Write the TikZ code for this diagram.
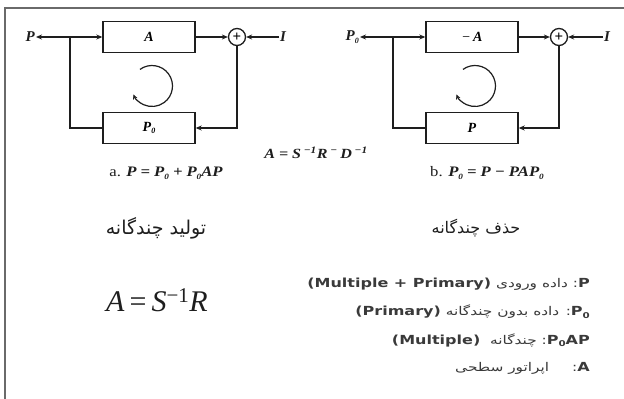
\documentclass[tikz,border=0pt]{standalone}
\usepackage{fontspec}
\usepackage{graphicx}
\usetikzlibrary{arrows.meta}
\TeXXeTstate=1
\newfontfamily\arabicfont[Script=Arabic]{DejaVu Sans}
\newfontfamily\tnr{Liberation Serif}
\newfontfamily\legfont{DejaVu Sans}
\definecolor{ink}{HTML}{1E1E1E}
\definecolor{legink}{HTML}{3A3A3A}
\definecolor{framec}{HTML}{6A6A6A}
\newcommand\subz{\raisebox{-2.5pt}{\fontsize{8}{8}\selectfont 0}}
\newcommand\latseg[1]{\beginL{\legfont\bfseries\fontsize{12.5}{12.5}\selectfont #1}\endL}
\newcommand\wsp{\hspace{3.5pt}}
\tikzset{
  wire/.style={draw=ink, line width=1.4pt},
  arr/.style={wire, -{Stealth[length=6pt,width=5pt]}},
  blk/.style={draw=ink, line width=1.4pt, minimum width=92pt, minimum height=31pt, inner sep=0pt,
    font=\tnr\bfseries\itshape\fontsize{14}{14}\selectfont},
  sumc/.style={circle, draw=ink, line width=1.3pt, minimum size=17pt, inner sep=0pt,
    font=\tnr\bfseries\fontsize{15}{15}\selectfont},
  lab/.style={font=\tnr\bfseries\itshape\fontsize{15}{15}\selectfont, inner sep=1pt, text=ink},
  capt/.style={font=\tnr\bfseries\fontsize{14.5}{14.5}\selectfont, inner sep=1pt, text=ink},
  headtxt/.style={font=\arabicfont, text=ink},
  leg/.style={font=\arabicfont\fontsize{12}{12}\selectfont, text=legink, inner sep=0pt, anchor=east},
  looparr/.style={draw=ink, line width=1.2pt, -{Stealth[length=5pt,width=4.5pt]}}
}
\begin{document}
\begin{tikzpicture}[x=1pt,y=-1pt]
\useasboundingbox (0,0) rectangle (624,399);
\fill[white] (0,0) rectangle (624,399);
\draw[framec, line width=1.5pt] (5,399) -- (5,8) -- (624,8);

% ---------- left diagram ----------
\node[lab,anchor=east] (pL) at (36,37) {P};
\node[blk] (AL) at (149,37) {A};
\node[blk] (BL) at (149,128) {P\subz};
\node[sumc] (SL) at (237,37) {+};
\node[lab,anchor=west] (IL) at (279,37) {I};
\coordinate (jL) at (70,37);
\draw[arr] (jL) -- (pL.east);
\draw[arr] (jL) -- (AL.west);
\draw[wire] (jL) |- (BL.west);
\draw[arr] (AL.east) -- (SL.west);
\draw[arr] (IL.west) -- (SL.east);
\draw[arr] (SL.south) |- (BL.east);
\draw[looparr] (152,86) ++(-126:20.5) arc[start angle=-126, end angle=156, radius=20.5];
\node[capt] (capA) at (166,173) {\scalebox{1.15}[1]{{\mdseries a.} \itshape P\wsp=\wsp P\subz{}\wsp+\wsp P\subz AP}};

% ---------- right diagram ----------
\node[lab,anchor=east] (pR) at (360,37) {P\subz};
\node[blk] (AR) at (472,37) {{\mdseries −}\,A};
\node[blk] (BR) at (472,128) {P};
\node[sumc] (SR) at (559,37) {+};
\node[lab,anchor=west] (IR) at (603,37) {I};
\coordinate (jR) at (393,37);
\draw[arr] (jR) -- (pR.east);
\draw[arr] (jR) -- (AR.west);
\draw[wire] (jR) |- (BR.west);
\draw[arr] (AR.east) -- (SR.west);
\draw[arr] (IR.west) -- (SR.east);
\draw[arr] (SR.south) |- (BR.east);
\draw[looparr] (475,86) ++(-126:20.5) arc[start angle=-126, end angle=156, radius=20.5];
\node[capt] (capB) at (487,173) {\scalebox{1.15}[1]{{\mdseries b.} \itshape P\subz{}\wsp=\wsp P\wsp−\wsp PAP\subz}};

% ---------- middle formula ----------
\node[lab, font=\tnr\bfseries\itshape\fontsize{14}{14}\selectfont] (eqm) at (316,153)
  {\scalebox{1.15}[1]{A\wsp=\wsp S\,\textsuperscript{−1}R\,\textsuperscript{−}\,D\,\textsuperscript{−1}}};

% ---------- headings ----------
\node[headtxt, font=\arabicfont\fontsize{19}{19}\selectfont] (hL) at (156,228) {\beginR تولید چندگانه\endR};
\node[headtxt, font=\arabicfont\fontsize{16}{16}\selectfont] (hR) at (476,228) {\beginR حذف چندگانه\endR};

% ---------- big formula ----------
\node[font=\tnr\fontsize{30}{30}\selectfont, text=ink] (eqb) at (157,300)
  {\textit{A}\,=\,\textit{S}\textsuperscript{−1}\textit{R}};

% ---------- legend ----------
\node[leg] (l1) at (590,284) {\scalebox{1.28}[1]{\beginR\latseg{P}: داده ورودی \latseg{(Multiple + Primary)}\endR}};
\node[leg] (l2) at (590,312) {\scalebox{1.28}[1]{\beginR\latseg{P\subz}: داده بدون چندگانه \latseg{(Primary)}\endR}};
\node[leg] (l3) at (590,340) {\scalebox{1.28}[1]{\beginR\latseg{P\subz AP}: چندگانه \ \latseg{(Multiple)}\endR}};
\node[leg] (l4) at (590,368) {\scalebox{1.28}[1]{\beginR\latseg{A}:\hspace{18pt}اپراتور سطحی\endR}};
\end{tikzpicture}
\end{document}
